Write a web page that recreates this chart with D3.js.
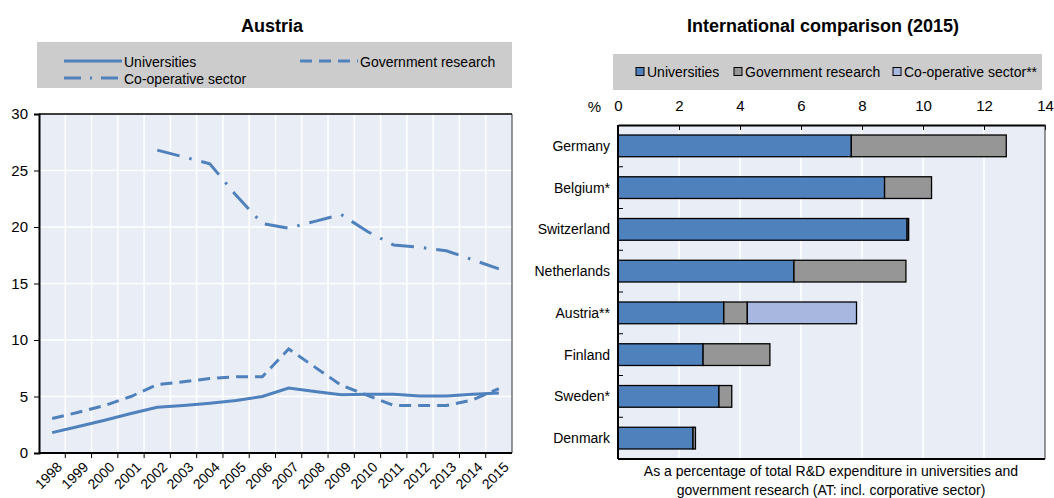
<!DOCTYPE html>
<html>
<head>
<meta charset="utf-8">
<script src="https://cdn.jsdelivr.net/npm/d3@7"></script>
<style>
  body { margin: 0; background: #fff; }
  text { font-family: "Liberation Sans Narrow", "Arial Narrow", "Liberation Sans", sans-serif; fill: #000; }
</style>
</head>
<body>
<svg id="chart" width="1054" height="498"></svg>
<script>
// --- left panel: Austria over time ---
var years = ["1998","1999","2000","2001","2002","2003","2004","2005","2006","2007","2008","2009","2010","2011","2012","2013","2014","2015"];
var universities = [1.8, 2.35, 2.9, 3.5, 4.05, 4.2, 4.4, 4.65, 5.0, 5.75, 5.45, 5.15, 5.2, 5.2, 5.05, 5.05, 5.2, 5.3];
var govResearch  = [3.05, 3.6, 4.2, 5.0, 6.05, 6.3, 6.6, 6.75, 6.75, 9.2, 7.6, 6.0, 5.1, 4.2, 4.2, 4.2, 4.7, 5.7];
var coopSector   = [null, null, null, null, 26.8, 26.2, 25.6, 22.8, 20.3, 19.9, 20.5, 21.1, 19.6, 18.4, 18.2, 17.9, 17.1, 16.3];
var leftTicks = [0, 5, 10, 15, 20, 25, 30];

// --- right panel: international comparison 2015 ---
var countries = ["Germany","Belgium*","Switzerland","Netherlands","Austria**","Finland","Sweden*","Denmark"];
var univShare = [7.65, 8.74, 9.48, 5.77, 3.47, 2.79, 3.31, 2.46];
var govShare  = [5.08, 1.54, 0.05, 3.67, 0.77, 2.19, 0.42, 0.08];
var coopShare = [0, 0, 0, 0, 3.58, 0, 0, 0];
var rightTicks = [0, 2, 4, 6, 8, 10, 12, 14];

var blue = "#4f81bd", grey = "#969696", lightBlue = "#a7b7e0";
var plotBg = "#e9edf6", legendBg = "#cccccc";

var svg = d3.select("#chart");

// ================= LEFT =================
var L = {x0: 39, x1: 512, y0: 114, y1: 453};
var x = d3.scaleBand().domain(years).range([L.x0, L.x1]);
var y = d3.scaleLinear().domain([0, 30]).range([L.y1, L.y0]);

svg.append("text").attr("x", 272).attr("y", 32).attr("text-anchor", "middle")
  .style("font-size", "18px").style("font-weight", "bold").text("Austria");

// legend
svg.append("rect").attr("x", 37).attr("y", 42).attr("width", 475).attr("height", 46).attr("fill", legendBg);
var leftLegend = [
  {name: "Universities", dash: null, lx: 64, ly: 61},
  {name: "Government research", dash: "12,7", lx: 300, ly: 61},
  {name: "Co-operative sector", dash: "17,9,2,9", lx: 64, ly: 78}
];
leftLegend.forEach(function(d) {
  svg.append("line").attr("x1", d.lx).attr("x2", d.lx + 58).attr("y1", d.ly).attr("y2", d.ly)
    .attr("stroke", blue).attr("stroke-width", 3).attr("stroke-dasharray", d.dash);
  svg.append("text").attr("x", d.lx + 60).attr("y", d.ly + 5.5).style("font-size", "14px").text(d.name);
});

var gL = svg.append("g");
gL.append("rect").attr("x", L.x0).attr("y", L.y0).attr("width", L.x1 - L.x0).attr("height", L.y1 - L.y0).attr("fill", plotBg);

// gridlines
gL.selectAll(".hg").data(leftTicks.slice(1, -1)).enter().append("line")
  .attr("x1", L.x0).attr("x2", L.x1).attr("y1", function(d) { return y(d); }).attr("y2", function(d) { return y(d); })
  .attr("stroke", "#fff").attr("stroke-width", 1.5);
gL.selectAll(".vg").data(years.slice(1)).enter().append("line")
  .attr("x1", function(d) { return x(d); }).attr("x2", function(d) { return x(d); })
  .attr("y1", L.y0).attr("y2", L.y1).attr("stroke", "#fff").attr("stroke-width", 1.5);

// lines
function drawLine(values, dash) {
  var line = d3.line()
    .defined(function(d) { return d != null; })
    .x(function(d, i) { return x(years[i]) + x.bandwidth() / 2; })
    .y(function(d) { return y(d); });
  gL.append("path").datum(values).attr("d", line).attr("fill", "none")
    .attr("stroke", blue).attr("stroke-width", 3).attr("stroke-dasharray", dash);
}
drawLine(coopSector, "23,10,2.5,10");
drawLine(govResearch, "12,7");
drawLine(universities, null);

// frame
gL.append("line").attr("x1", L.x0).attr("x2", L.x1).attr("y1", L.y0).attr("y2", L.y0).attr("stroke", "#000").attr("stroke-width", 1.5);
gL.append("line").attr("x1", L.x1).attr("x2", L.x1).attr("y1", L.y0).attr("y2", L.y1).attr("stroke", "#333").attr("stroke-width", 1);

// y axis
var yAx = gL.append("g").attr("transform", "translate(" + L.x0 + ",0)")
  .call(d3.axisLeft(y).tickValues(leftTicks).tickSize(5).tickPadding(6));
yAx.select(".domain").attr("stroke-width", 2);
yAx.selectAll("text").style("font-size", "15px");

// x axis: ticks between years, labels rotated
var xAx = gL.append("g").attr("transform", "translate(0," + L.y1 + ")");
xAx.append("line").attr("x1", L.x0).attr("x2", L.x1).attr("stroke", "#000").attr("stroke-width", 2);
xAx.selectAll(".tk").data(years.slice(1)).enter().append("line")
  .attr("x1", function(d) { return x(d); }).attr("x2", function(d) { return x(d); })
  .attr("y1", 0).attr("y2", 5).attr("stroke", "#000");
xAx.selectAll(".lb").data(years).enter().append("text")
  .attr("transform", function(d) { return "translate(" + (x(d) + x.bandwidth() / 2 + 4) + ",8) rotate(-45)"; })
  .attr("text-anchor", "end").attr("dy", "0.7em").style("font-size", "14px").text(function(d) { return d; });

// ================= RIGHT =================
var R = {x0: 618, x1: 1045, y0: 125, y1: 459};
var xr = d3.scaleLinear().domain([0, 14]).range([R.x0, R.x1]);
var yr = d3.scaleBand().domain(countries).range([R.y0, R.y1]).paddingInner(0.48).paddingOuter(0.24);

svg.append("text").attr("x", 823).attr("y", 32).attr("text-anchor", "middle")
  .style("font-size", "18px").style("font-weight", "bold").text("International comparison (2015)");

svg.append("rect").attr("x", 613).attr("y", 54).attr("width", 429).attr("height", 36).attr("fill", legendBg);
var rightLegend = [
  {name: "Universities", color: blue, lx: 636},
  {name: "Government research", color: grey, lx: 734},
  {name: "Co-operative sector**", color: lightBlue, lx: 893}
];
rightLegend.forEach(function(d) {
  svg.append("rect").attr("x", d.lx).attr("y", 67.5).attr("width", 8).attr("height", 8)
    .attr("fill", d.color).attr("stroke", "#000").attr("stroke-width", 1);
  svg.append("text").attr("x", d.lx + 11).attr("y", 76.5).style("font-size", "14px").text(d.name);
});

var gR = svg.append("g");
gR.append("rect").attr("x", R.x0).attr("y", R.y0).attr("width", R.x1 - R.x0).attr("height", R.y1 - R.y0).attr("fill", plotBg);
gR.selectAll(".vg").data(rightTicks.slice(1, -1)).enter().append("line")
  .attr("x1", function(d) { return xr(d); }).attr("x2", function(d) { return xr(d); })
  .attr("y1", R.y0).attr("y2", R.y1).attr("stroke", "#fff").attr("stroke-width", 1.5);

// stacked bars
var rows = countries.map(function(c, i) { return {country: c, univ: univShare[i], gov: govShare[i], coop: coopShare[i]}; });
var stack = d3.stack().keys(["univ", "gov", "coop"])(rows);
var colors = {univ: blue, gov: grey, coop: lightBlue};
stack.forEach(function(layer) {
  gR.selectAll(".bar-" + layer.key).data(layer.filter(function(d) { return d[1] - d[0] > 0; })).enter().append("rect")
    .attr("x", function(d) { return xr(d[0]); })
    .attr("width", function(d) { return xr(d[1]) - xr(d[0]); })
    .attr("y", function(d) { return yr(d.data.country); })
    .attr("height", yr.bandwidth())
    .attr("fill", colors[layer.key]).attr("stroke", "#000").attr("stroke-width", 1.3);
});

// top axis
var xtAx = gR.append("g").attr("transform", "translate(0," + R.y0 + ")")
  .call(d3.axisTop(xr).tickValues(rightTicks).tickSizeInner(-5).tickSizeOuter(0).tickPadding(14));
xtAx.select(".domain").attr("stroke-width", 2);
xtAx.selectAll("text").style("font-size", "15px");
svg.append("text").attr("x", 601).attr("y", 112).attr("text-anchor", "end").style("font-size", "15px").text("%");

// right border and bottom axis
gR.append("line").attr("x1", R.x1).attr("x2", R.x1).attr("y1", R.y0).attr("y2", R.y1).attr("stroke", "#333").attr("stroke-width", 1);
gR.append("line").attr("x1", R.x0).attr("x2", R.x1).attr("y1", R.y1).attr("y2", R.y1).attr("stroke", "#000").attr("stroke-width", 2);

// left axis with country labels, ticks between bands pointing inward
var ylAx = gR.append("g").attr("transform", "translate(" + R.x0 + ",0)");
ylAx.append("line").attr("y1", R.y0).attr("y2", R.y1).attr("stroke", "#000").attr("stroke-width", 2);
var step = yr.step();
ylAx.selectAll(".tk").data(countries.slice(1)).enter().append("line")
  .attr("y1", function(d) { return yr(d) - step * 0.24; }).attr("y2", function(d) { return yr(d) - step * 0.24; })
  .attr("x1", 0).attr("x2", 5).attr("stroke", "#000");
ylAx.selectAll(".lb").data(countries).enter().append("text")
  .attr("x", -8).attr("y", function(d) { return yr(d) + yr.bandwidth() / 2; })
  .attr("dy", "0.35em").attr("text-anchor", "end").style("font-size", "14px").text(function(d) { return d; });

// note below
svg.append("text").attr("x", 831).attr("y", 476).attr("text-anchor", "middle").style("font-size", "14px")
  .text("As a percentage of total R&D expenditure in universities and");
svg.append("text").attr("x", 831).attr("y", 495).attr("text-anchor", "middle").style("font-size", "14px")
  .text("government research (AT: incl. corporative sector)");
</script>
</body>
</html>
